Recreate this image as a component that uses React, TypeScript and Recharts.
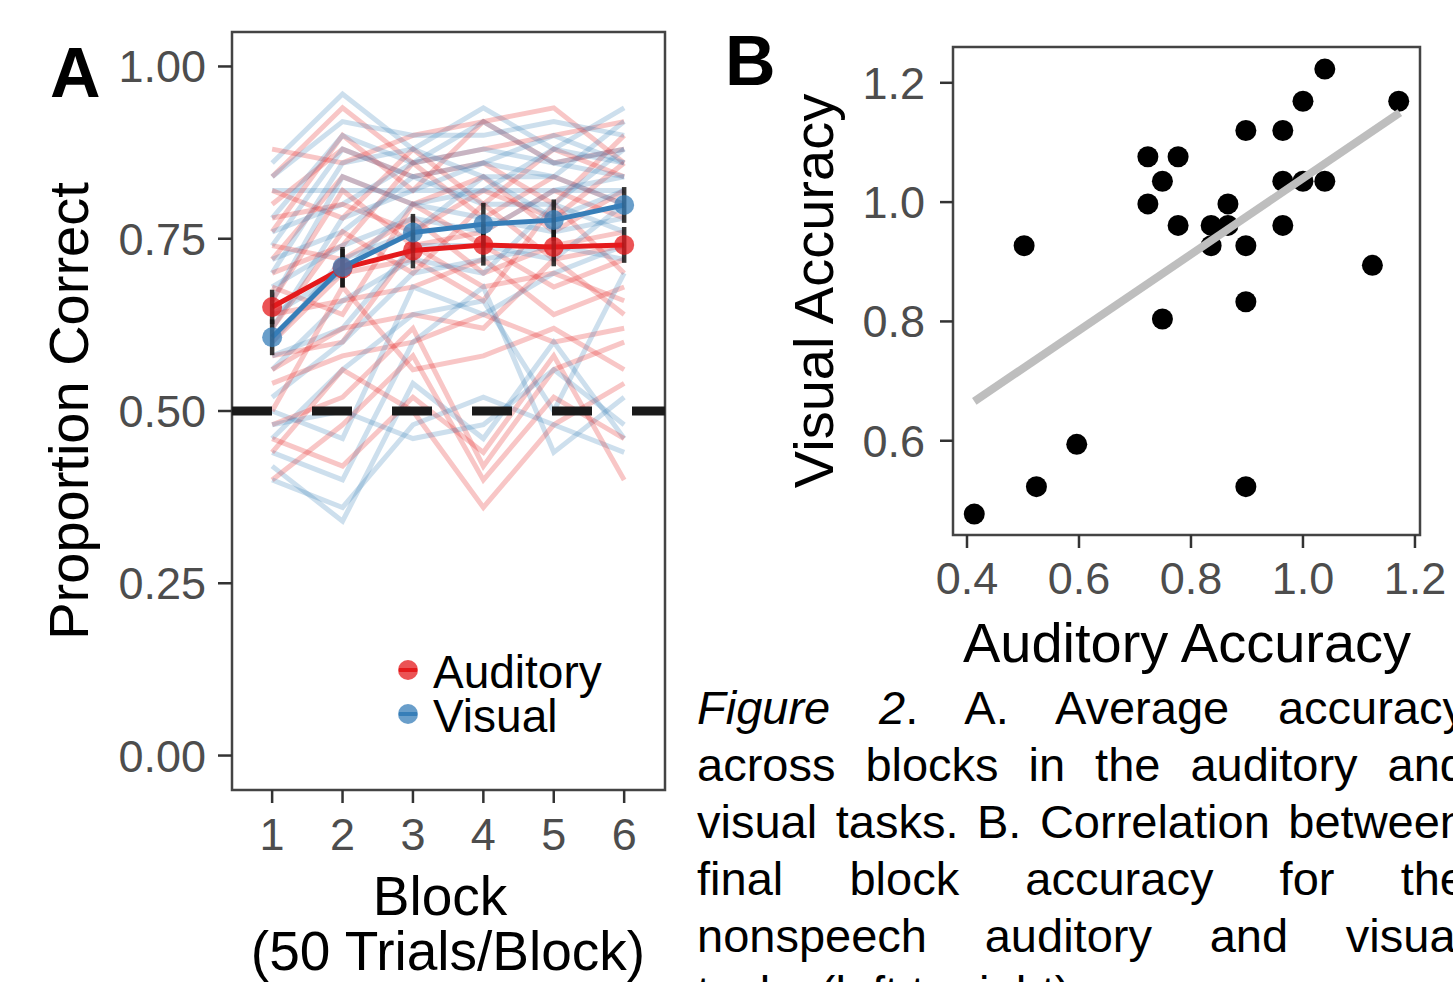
import React from 'react';
import {
  ComposedChart,
  Line,
  XAxis,
  YAxis,
  ReferenceLine,
  ReferenceArea,
  ErrorBar,
  ScatterChart,
  Scatter,
} from 'recharts';

const FONT = "'Liberation Sans', Arial, Helvetica, sans-serif";
const RED = '#E41A1C';
const BLUE = '#377EB8';
const TICK_GRAY = '#4D4D4D';

// Panel A: accuracy per block (50 trials / block)
const blocks = [1, 2, 3, 4, 5, 6];

const auditorySubjects = [
  [0.84, 0.94, 0.86, 0.88, 0.90, 0.92],
  [0.88, 0.86, 0.90, 0.92, 0.94, 0.86],
  [0.80, 0.88, 0.84, 0.86, 0.80, 0.90],
  [0.76, 0.90, 0.82, 0.92, 0.86, 0.88],
  [0.82, 0.78, 0.88, 0.80, 0.88, 0.84],
  [0.72, 0.84, 0.80, 0.84, 0.76, 0.82],
  [0.70, 0.74, 0.86, 0.78, 0.84, 0.80],
  [0.78, 0.80, 0.76, 0.82, 0.78, 0.86],
  [0.66, 0.82, 0.74, 0.76, 0.82, 0.78],
  [0.74, 0.72, 0.78, 0.70, 0.74, 0.76],
  [0.62, 0.76, 0.70, 0.80, 0.72, 0.74],
  [0.68, 0.64, 0.80, 0.74, 0.68, 0.72],
  [0.60, 0.70, 0.72, 0.66, 0.80, 0.70],
  [0.64, 0.66, 0.68, 0.72, 0.64, 0.68],
  [0.58, 0.60, 0.74, 0.68, 0.70, 0.66],
  [0.56, 0.62, 0.64, 0.62, 0.72, 0.64],
  [0.54, 0.58, 0.60, 0.64, 0.60, 0.62],
  [0.50, 0.68, 0.56, 0.58, 0.62, 0.56],
  [0.48, 0.52, 0.62, 0.42, 0.56, 0.60],
  [0.44, 0.56, 0.50, 0.36, 0.48, 0.54],
  [0.40, 0.48, 0.58, 0.40, 0.52, 0.46],
  [0.46, 0.42, 0.52, 0.44, 0.58, 0.40],
];

const visualSubjects = [
  [0.86, 0.96, 0.88, 0.94, 0.88, 0.94],
  [0.82, 0.82, 0.82, 0.82, 0.82, 0.82],
  [0.84, 0.92, 0.90, 0.90, 0.92, 0.90],
  [0.78, 0.90, 0.86, 0.92, 0.86, 0.88],
  [0.74, 0.88, 0.84, 0.86, 0.90, 0.86],
  [0.70, 0.86, 0.88, 0.84, 0.84, 0.92],
  [0.76, 0.80, 0.86, 0.88, 0.86, 0.84],
  [0.66, 0.84, 0.80, 0.82, 0.88, 0.86],
  [0.72, 0.76, 0.84, 0.80, 0.80, 0.88],
  [0.62, 0.78, 0.82, 0.86, 0.84, 0.80],
  [0.68, 0.74, 0.78, 0.76, 0.82, 0.84],
  [0.60, 0.72, 0.76, 0.84, 0.78, 0.82],
  [0.64, 0.70, 0.80, 0.78, 0.76, 0.78],
  [0.56, 0.66, 0.72, 0.70, 0.80, 0.76],
  [0.58, 0.62, 0.74, 0.74, 0.72, 0.80],
  [0.52, 0.60, 0.70, 0.72, 0.74, 0.72],
  [0.50, 0.46, 0.68, 0.64, 0.70, 0.74],
  [0.46, 0.56, 0.64, 0.66, 0.50, 0.70],
  [0.44, 0.40, 0.60, 0.68, 0.44, 0.52],
  [0.42, 0.34, 0.54, 0.46, 0.60, 0.46],
  [0.40, 0.36, 0.48, 0.52, 0.48, 0.44],
  [0.48, 0.50, 0.46, 0.48, 0.56, 0.48],
];

const auditoryMean = [0.651, 0.707, 0.733, 0.741, 0.738, 0.741];
const visualMean = [0.607, 0.709, 0.759, 0.771, 0.777, 0.799];
const auditorySe = [0.025, 0.028, 0.026, 0.03, 0.028, 0.026];
const visualSe = [0.026, 0.029, 0.027, 0.031, 0.03, 0.026];

const proportionTicks = [0, 0.25, 0.5, 0.75, 1];

// Panel B: final block accuracy
const auditoryAccuracy = [
  1.039, 1.0, 1.171, 0.898, 0.964, 0.723, 0.777, 0.749, 0.964, 1.0, 1.039, 0.723, 0.866, 0.777,
  0.836, 0.866, 0.964, 0.502, 0.836, 0.898, 1.124, 0.898, 0.749, 0.596, 0.524, 0.898, 0.413,
];
const visualAccuracy = [
  1.223, 1.169, 1.169, 1.12, 1.12, 1.076, 1.076, 1.035, 1.035, 1.035, 1.035, 0.997, 0.997, 0.961,
  0.961, 0.961, 0.961, 0.927, 0.927, 0.927, 0.894, 0.833, 0.804, 0.594, 0.523, 0.523, 0.477,
];
const fitX = [0.413, 1.173];
const fitY = [0.666, 1.15];

const auditoryTicks = [0.4, 0.6, 0.8, 1.0, 1.2];
const visualTicks = [0.6, 0.8, 1.0, 1.2];

const blockData = blocks.map((block, i) => {
  const row: Record<string, number> = {
    block,
    audMean: auditoryMean[i],
    visMean: visualMean[i],
    audSe: auditorySe[i],
    visSe: visualSe[i],
  };
  auditorySubjects.forEach((s, j) => {
    row[`a${j}`] = s[i];
  });
  visualSubjects.forEach((s, j) => {
    row[`v${j}`] = s[i];
  });
  return row;
});

const subjectKeys: string[] = [];
for (let j = 0; j < Math.max(auditorySubjects.length, visualSubjects.length); j++) {
  if (j < auditorySubjects.length) subjectKeys.push(`a${j}`);
  if (j < visualSubjects.length) subjectKeys.push(`v${j}`);
}

const scatterData = auditoryAccuracy.map((x, i) => ({ x, y: visualAccuracy[i] }));
const fitData = fitX.map((x, i) => ({ x, y: fitY[i] }));

const tickStyle = { fontSize: 45, fill: TICK_GRAY, fontFamily: FONT };
const tickLine = { stroke: '#333333', strokeWidth: 2.5 };

const captionLines = [
  <><i>Figure 2</i>. A. Average accuracy</>,
  <>across blocks in the auditory and</>,
  <>visual tasks. B. Correlation between</>,
  <>final block accuracy for the</>,
  <>nonspeech auditory and visual</>,
];

const Dot = (props: any) => <circle cx={props.cx} cy={props.cy} r={10.5} fill="#000000" />;

const PanelA = () => (
  <ComposedChart
    width={680}
    height={860}
    data={blockData}
    margin={{ top: 32, right: 15, bottom: 10, left: 112 }}
  >
    <XAxis
      type="number"
      dataKey="block"
      domain={[0.43, 6.58]}
      ticks={blocks}
      interval={0}
      allowDataOverflow
      axisLine={false}
      tickLine={tickLine}
      tickSize={13}
      tickMargin={15}
      tick={tickStyle}
      height={60}
    />
    <YAxis
      type="number"
      domain={[-0.05, 1.05]}
      ticks={proportionTicks}
      interval={0}
      allowDataOverflow
      axisLine={false}
      tickLine={tickLine}
      tickSize={14}
      tickMargin={12}
      tick={tickStyle}
      tickFormatter={(v: number) => v.toFixed(2)}
      width={120}
    />
    {subjectKeys.map((k) => (
      <Line
        key={k}
        dataKey={k}
        type="linear"
        stroke={k[0] === 'a' ? RED : BLUE}
        strokeOpacity={0.25}
        strokeWidth={5}
        dot={false}
        activeDot={false}
        isAnimationActive={false}
      />
    ))}
    <Line
      dataKey="audMean"
      type="linear"
      stroke={RED}
      strokeWidth={5}
      dot={{ r: 10, fill: RED, fillOpacity: 0.75, stroke: 'none' }}
      activeDot={false}
      isAnimationActive={false}
    />
    <Line
      dataKey="visMean"
      type="linear"
      stroke={BLUE}
      strokeWidth={5}
      dot={{ r: 10, fill: BLUE, fillOpacity: 0.75, stroke: 'none' }}
      activeDot={false}
      isAnimationActive={false}
    />
    <Line dataKey="audMean" stroke="none" dot={false} activeDot={false} isAnimationActive={false}>
      <ErrorBar dataKey="audSe" width={0} stroke="rgba(20,20,20,0.85)" strokeWidth={4.5} direction="y" />
    </Line>
    <Line dataKey="visMean" stroke="none" dot={false} activeDot={false} isAnimationActive={false}>
      <ErrorBar dataKey="visSe" width={0} stroke="rgba(20,20,20,0.85)" strokeWidth={4.5} direction="y" />
    </Line>
    <ReferenceLine y={0.5} stroke="#1a1a1a" strokeWidth={9} strokeDasharray="40 40" />
    <ReferenceArea
      x1={0.43}
      x2={6.58}
      y1={-0.05}
      y2={1.05}
      fill="none"
      fillOpacity={0}
      stroke="#444444"
      strokeWidth={2.5}
    />
  </ComposedChart>
);

const PanelB = () => (
  <ScatterChart width={753} height={640} margin={{ top: 47, right: 33, bottom: 45, left: 153 }}>
    <XAxis
      type="number"
      dataKey="x"
      domain={[0.375, 1.209]}
      ticks={auditoryTicks}
      interval={0}
      allowDataOverflow
      axisLine={false}
      tickLine={tickLine}
      tickSize={13}
      tickMargin={14}
      tick={tickStyle}
      tickFormatter={(v: number) => v.toFixed(1)}
      height={60}
    />
    <YAxis
      type="number"
      dataKey="y"
      domain={[0.442, 1.26]}
      ticks={visualTicks}
      interval={0}
      allowDataOverflow
      axisLine={false}
      tickLine={tickLine}
      tickSize={13}
      tickMargin={15}
      tick={tickStyle}
      tickFormatter={(v: number) => v.toFixed(1)}
      width={100}
    />
    <Scatter data={scatterData} fill="#000000" shape={Dot} isAnimationActive={false} />
    <Scatter
      data={fitData}
      line={{ stroke: '#BEBEBE', strokeWidth: 8 }}
      shape={() => <g />}
      isAnimationActive={false}
    />
    <ReferenceArea
      x1={0.375}
      x2={1.209}
      y1={0.442}
      y2={1.26}
      fill="none"
      fillOpacity={0}
      stroke="#444444"
      strokeWidth={2.5}
    />
  </ScatterChart>
);

export default function App() {
  return (
    <div
      style={{
        position: 'absolute',
        left: 0,
        top: 0,
        width: 1453,
        height: 982,
        overflow: 'hidden',
        background: '#fff',
        fontFamily: FONT,
      }}
    >
      <div style={{ position: 'absolute', left: 0, top: 0 }}>
        <PanelA />
      </div>
      <div style={{ position: 'absolute', left: 700, top: 0 }}>
        <PanelB />
      </div>
      <svg
        width={1453}
        height={982}
        style={{ position: 'absolute', left: 0, top: 0, pointerEvents: 'none' }}
        fontFamily={FONT}
      >
        <text x={50} y={97} fontSize={70} fontWeight="bold" fill="#000">A</text>
        <text x={725} y={85} fontSize={70} fontWeight="bold" fill="#000">B</text>
        <text x={88} y={411} fontSize={56} textAnchor="middle" transform="rotate(-90 88 411)" fill="#000">
          Proportion Correct
        </text>
        <text x={440} y={915} fontSize={55} textAnchor="middle" fill="#000">Block</text>
        <text x={448} y={970} fontSize={55} textAnchor="middle" fill="#000">(50 Trials/Block)</text>
        <text x={833} y={291} fontSize={56} textAnchor="middle" transform="rotate(-90 833 291)" fill="#000">
          Visual Accuracy
        </text>
        <text x={1187} y={662} fontSize={56} textAnchor="middle" fill="#000">Auditory Accuracy</text>
        {/* legend */}
        <circle cx={408} cy={670} r={10} fill={RED} fillOpacity={0.75} />
        <line x1={399} x2={417} y1={670} y2={670} stroke={RED} strokeWidth={4} />
        <text x={433} y={688} fontSize={46} fill="#000">Auditory</text>
        <circle cx={408} cy={714} r={10} fill={BLUE} fillOpacity={0.75} />
        <line x1={399} x2={417} y1={714} y2={714} stroke={BLUE} strokeWidth={4} />
        <text x={433} y={732} fontSize={46} fill="#000">Visual</text>
      </svg>
      <div style={{ position: 'absolute', left: 697, top: 679, width: 769, fontSize: 47, lineHeight: '57px', color: '#000' }}>
        {captionLines.map((line, i) => (
          <div key={i} style={{ textAlign: 'justify', textAlignLast: 'justify', whiteSpace: 'normal' }}>
            {line}
          </div>
        ))}
        <div>tasks (left to right).</div>
      </div>
    </div>
  );
}
